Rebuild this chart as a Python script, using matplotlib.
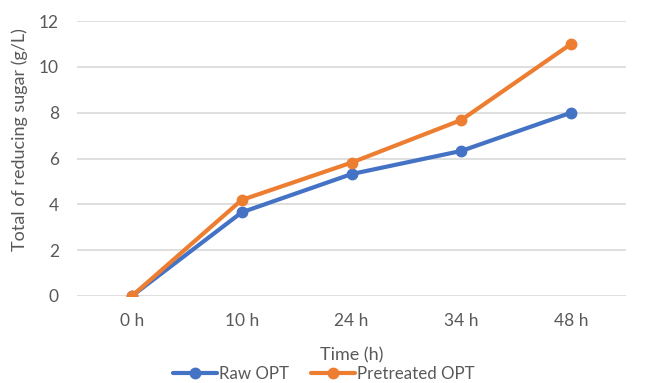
import matplotlib
matplotlib.use("Agg")
import matplotlib.pyplot as plt

categories = ["0 h", "10 h", "24 h", "34 h", "48 h"]
raw_opt = [0.0, 3.65, 5.32, 6.33, 8.0]
pretreated_opt = [0.0, 4.19, 5.82, 7.68, 11.0]
y_ticks = [0, 2, 4, 6, 8, 10, 12]

plt.rcParams["font.family"] = ["Lato", "DejaVu Sans"]

W, H = 654, 383
fig = plt.figure(figsize=(W / 100, H / 100), dpi=100)
ax = fig.add_axes([77 / W, 87 / H, (626 - 77) / W, (296 - 21) / H])

x = list(range(len(categories)))
ax.plot(x, raw_opt, color="#4472C4", lw=3.0, marker="o", ms=7.5,
        solid_capstyle="round", label="Raw OPT", zorder=3)
ax.plot(x, pretreated_opt, color="#ED7D31", lw=3.0, marker="o", ms=7.5,
        solid_capstyle="round", label="Pretreated OPT", zorder=4)

ax.set_xlim(-0.5, len(categories) - 0.5)
ax.set_ylim(0, 12)
ax.set_yticks(y_ticks)
ax.set_xticks(x)
ax.set_xticklabels(categories)
ax.grid(axis="y", color="#D9D9D9", lw=1.2)
ax.set_axisbelow(True)
for s in ax.spines.values():
    s.set_visible(False)
ax.tick_params(length=0, labelsize=12.5, colors="#595959")
ax.tick_params(axis="y", pad=13)
ax.tick_params(axis="x", pad=12)

fig.text(352 / W, 1 - 355 / H, "Time (h)", ha="center", va="center",
         fontsize=13, color="#595959")
fig.text(20 / W, 1 - 140 / H, "Total of reducing sugar (g/L)", ha="center",
         va="center", rotation=90, fontsize=13, color="#595959")

fig.legend(loc="center", bbox_to_anchor=(324 / W, 1 - 374 / H), ncol=2,
           frameon=False, fontsize=12.2, labelcolor="#595959",
           handlelength=2.6, handletextpad=0.1, columnspacing=1.3,
           borderaxespad=0, borderpad=0)

fig.savefig("out.png", dpi=100)
